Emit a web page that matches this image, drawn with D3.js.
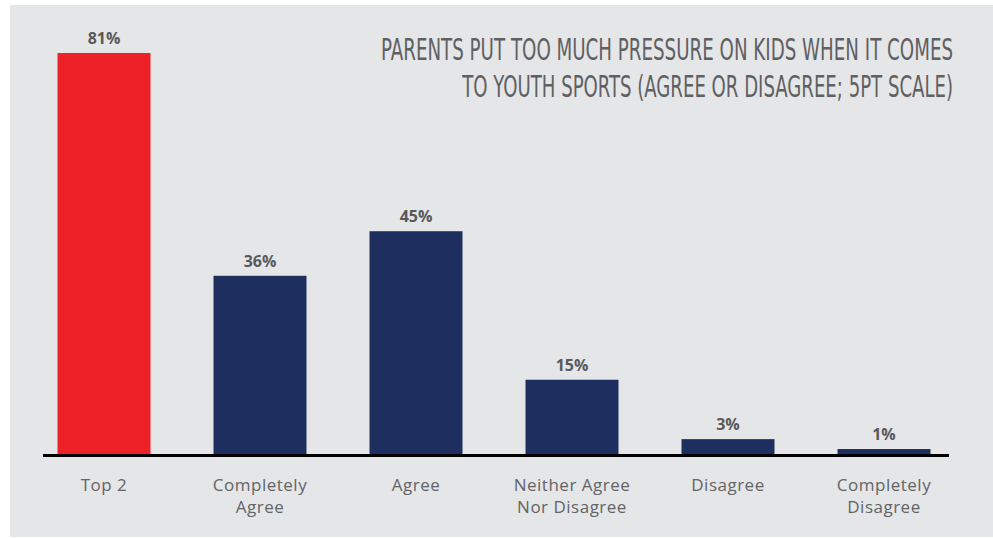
<!DOCTYPE html>
<html>
<head>
<meta charset="utf-8">
<script src="https://cdn.jsdelivr.net/npm/d3@7"></script>
<style>
  html, body { margin: 0; padding: 0; background: #ffffff; }
  svg { display: block; }
</style>
</head>
<body>
<svg id="chart" width="993" height="538"></svg>
<script>
// Survey responses, percent of parents
const categories = ["Top 2", "Completely Agree", "Agree", "Neither Agree Nor Disagree", "Disagree", "Completely Disagree"];
const categoryLines = [["Top 2"], ["Completely", "Agree"], ["Agree"], ["Neither Agree", "Nor Disagree"], ["Disagree"], ["Completely", "Disagree"]];
const values = [81, 36, 45, 15, 3, 1];
const titleLines = [
  "PARENTS PUT TOO MUCH PRESSURE ON KIDS WHEN IT COMES",
  "TO YOUTH SPORTS (AGREE OR DISAGREE; 5PT SCALE)"
];

const svg = d3.select("#chart");

// panel background
svg.append("rect")
  .attr("x", 10).attr("y", 5)
  .attr("width", 983).attr("height", 532)
  .attr("fill", "#e5e6e8");

const baseline = 454;
const x = d3.scaleBand()
  .domain(categories)
  .range([26, 962])
  .paddingInner(0.404)
  .paddingOuter(0.202);

const y = d3.scaleLinear()
  .domain([0, 81])
  .range([baseline, 53]);

// bars
svg.append("g").selectAll("rect")
  .data(categories)
  .join("rect")
  .attr("x", d => x(d))
  .attr("width", x.bandwidth())
  .attr("y", (d, i) => y(values[i]))
  .attr("height", (d, i) => baseline - y(values[i]))
  .attr("fill", (d, i) => i === 0 ? "#ee2129" : "#1e2f5f");

// value labels
svg.append("g").selectAll("text")
  .data(categories)
  .join("text")
  .attr("x", d => x(d) + x.bandwidth() / 2)
  .attr("y", (d, i) => y(values[i]) - 9)
  .attr("text-anchor", "middle")
  .attr("font-family", "'Open Sans', sans-serif")
  .attr("font-weight", 700)
  .attr("font-size", 16)
  .attr("fill", "#58595b")
  .text((d, i) => values[i] + "%");

// baseline axis
const axis = d3.axisBottom(x).tickSize(0).tickFormat("");
const axisG = svg.append("g")
  .attr("transform", `translate(0,${baseline + 1.5})`)
  .call(axis);
axisG.select(".domain")
  .attr("d", "M43,0H949")
  .attr("stroke", "#000")
  .attr("stroke-width", 3);

// category labels
const labels = svg.append("g").selectAll("text")
  .data(categories)
  .join("text")
  .attr("x", d => x(d) + x.bandwidth() / 2)
  .attr("y", 491)
  .attr("text-anchor", "middle")
  .attr("font-family", "'Open Sans', sans-serif")
  .attr("font-size", 17)
  .attr("letter-spacing", 0.5)
  .attr("fill", "#636466");
labels.each(function(d, i) {
  const t = d3.select(this);
  categoryLines[i].forEach((line, j) => {
    t.append("tspan")
      .attr("x", x(d) + x.bandwidth() / 2)
      .attr("dy", j === 0 ? 0 : 22)
      .text(line);
  });
});

// title: right-aligned, horizontally condensed to its line width
const titleWidths = [572, 491];
svg.append("g").selectAll("text")
  .data(titleLines)
  .join("text")
  .attr("x", 0)
  .attr("y", 0)
  .attr("text-anchor", "end")
  .attr("font-family", "'Liberation Sans Narrow', 'DejaVu Sans Condensed', 'Liberation Sans', sans-serif")
  .attr("font-size", 31)
  .attr("fill", "#5f6062")
  .text(d => d)
  .each(function(d, i) {
    const w = this.getComputedTextLength();
    const k = titleWidths[i] / w;
    d3.select(this).attr("transform", `translate(953,${60 + i * 37}) scale(${k},1)`);
  });
</script>
</body>
</html>
